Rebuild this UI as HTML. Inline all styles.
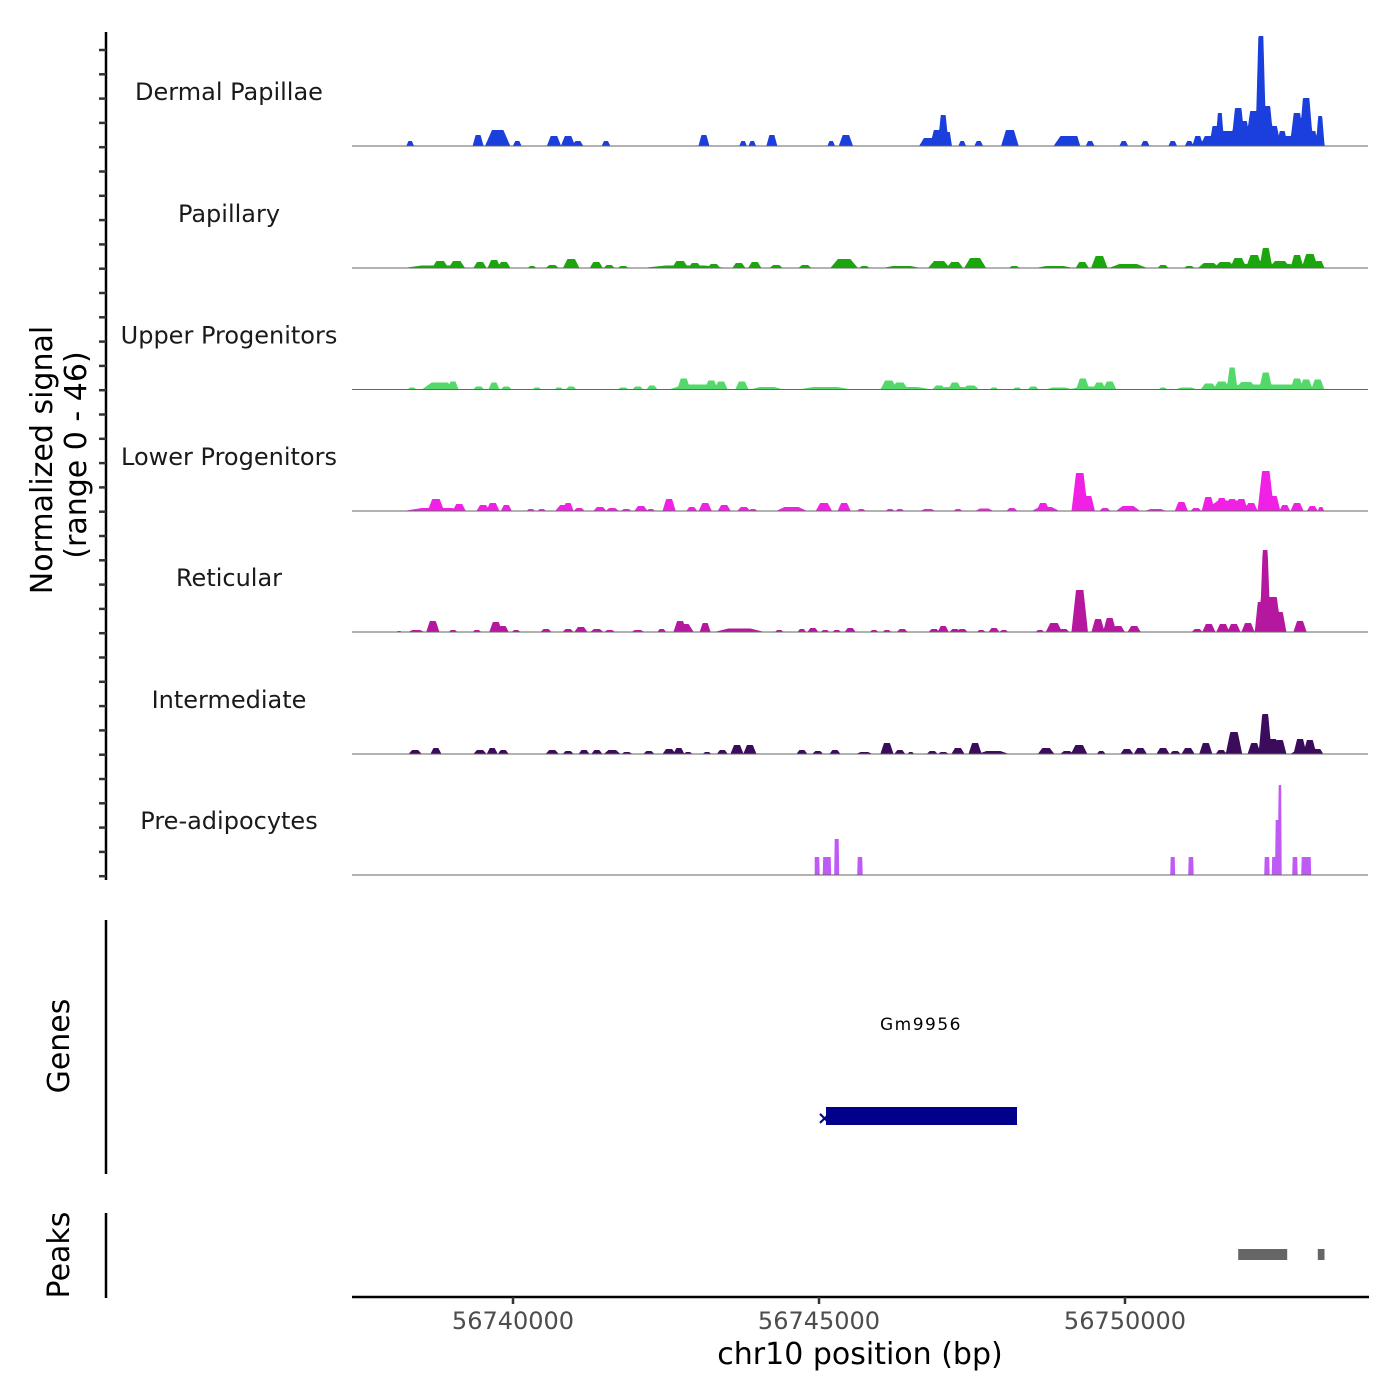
<!DOCTYPE html>
<html><head><meta charset="utf-8">
<style>
html,body{margin:0;padding:0;background:#fff;}
svg{display:block;font-family:"DejaVu Sans","Liberation Sans",sans-serif;}
</style></head>
<body>
<svg id="chart" width="1400" height="1400" viewBox="0 0 1400 1400" xmlns="http://www.w3.org/2000/svg">
  <rect x="0" y="0" width="1400" height="1400" fill="#fff"/>
  <g id="tracks"></g>
  <line x1="106" y1="32" x2="106" y2="880" stroke="#000" stroke-width="2.5"/>
  <g id="yticks"></g>
  <text transform="translate(52,460) rotate(-90)" text-anchor="middle" font-size="30" fill="#000">Normalized signal</text>
  <text transform="translate(86,455) rotate(-90)" text-anchor="middle" font-size="30" fill="#000">(range 0 - 46)</text>

  <line x1="106" y1="920" x2="106" y2="1174" stroke="#000" stroke-width="2.5"/>
  <text transform="translate(69,1046) rotate(-90)" text-anchor="middle" font-size="30" fill="#000">Genes</text>
  <text x="921" y="1030" text-anchor="middle" font-size="17" letter-spacing="1.5" fill="#000">Gm9956</text>
  <rect id="genebar" x="826" y="1107" width="191" height="18" fill="#00008b"/>
  <text x="817" y="1124" font-size="18" font-weight="bold" fill="#00008b">×</text>

  <line x1="106" y1="1213" x2="106" y2="1298" stroke="#000" stroke-width="2.5"/>
  <text transform="translate(69,1255) rotate(-90)" text-anchor="middle" font-size="30" fill="#000">Peaks</text>
  <g id="peaks"></g>

  <line x1="352" y1="1297" x2="1369" y2="1297" stroke="#000" stroke-width="2.5"/>
  <g id="xticks"></g>
  <text x="860" y="1364" text-anchor="middle" font-size="30" fill="#000">chr10 position (bp)</text>
</svg>
<script>
// x positions are kb offsets from 56,740,000 bp
const xTickValues=[56740000,56745000,56750000];
const xTickLabels=["56740000","56745000","56750000"];
const trackNames=["Dermal Papillae","Papillary","Upper Progenitors","Lower Progenitors","Reticular","Intermediate","Pre-adipocytes"];
const trackColors=["#1a3fdc","#1aa60c","#52d96a","#f020e4","#b5179e","#3b0b5c","#c05af5"];
const yMax=46;

const dpPos=[-1.68,-0.57,-0.25,0.07,0.67,0.90,1.06,1.52,3.12,3.76,3.91,4.23,5.20,5.44,6.78,6.93,7.03,7.11,7.34,7.61,8.12,9.04,9.18,9.43,9.98,10.33,10.78,11.05,11.19,11.37,11.47,11.55,11.68,11.85,11.94,12.11,12.22,12.32,12.43,12.57,12.81,12.96,13.07,13.19,11.75,12.65];
const dpVal=[2,4.4,6.4,2,4,4,2,2,4.4,2,2,4.4,2,4.4,3.2,6.4,12.4,5.6,2,2,6.4,4,4,2,2,2,2,2,4,4,8,13.2,6,15.2,10,14,44,16,8,6,13.2,19.2,6,12,4,4];
const dpWid=[.07,.1,.23,.08,.13,.13,.1,.08,.1,.07,.07,.1,.07,.13,.16,.13,.1,.07,.07,.08,.16,.23,.1,.08,.08,.08,.08,.08,.1,.16,.1,.08,.2,.13,.13,.16,.1,.13,.13,.1,.13,.13,.1,.08,.5,.5];

const paPos=[-1.25,-1.19,-0.92,-0.54,-0.31,-0.15,0.31,0.64,0.95,1.36,1.57,1.80,2.81,2.73,2.97,3.28,3.69,3.95,4.30,4.77,5.41,5.74,6.35,6.96,7.22,7.55,8.19,8.85,9.30,9.58,10.05,10.62,11.05,11.37,11.63,11.85,12.11,12.30,12.53,12.28,12.81,13.02,13.17];
const paVal=[1,2.8,2.8,2.4,3.2,2.4,0.8,1.2,3.6,2.4,1.2,0.8,1,2.8,2,1.6,2,2.4,1.2,1.2,3.6,0.8,0.8,2.8,2.4,4,0.8,0.8,2.4,4.8,1.6,1.2,0.8,2,2.4,4,5.2,8,2.8,1.6,5.2,5.6,2.8];
const paWid=[.6,.15,.15,.12,.12,.12,.08,.12,.15,.12,.1,.1,.78,.15,.12,.12,.12,.12,.12,.12,.25,.1,.35,.2,.15,.2,.1,.35,.12,.15,.35,.1,.1,.2,.2,.15,.15,.12,.2,1.0,.12,.15,.1];

const upPos=[-1.65,-1.20,-0.98,-0.56,-0.31,-0.11,0.39,0.75,0.95,1.80,2.04,2.27,3.02,2.79,3.24,3.40,3.74,4.15,5.10,6.14,6.32,6.40,6.63,6.96,7.22,7.48,7.25,7.86,8.24,8.50,8.92,9.31,9.58,9.75,9.45,10.62,11.00,11.37,11.58,11.75,11.98,12.30,12.52,12.81,12.96,13.15,12.30];
const upVal=[0.8,2.8,3.2,1.2,2.8,1.2,0.8,0.8,1.2,0.8,1.2,1.6,2,4.4,3.6,3.2,3.2,1,1,3.6,2.8,1,0.8,1.6,2.8,1.6,1,0.8,0.8,1.2,0.8,4.4,2.8,3.2,1.2,0.8,0.8,2.4,3.2,8.8,3,6.8,2,4.4,4,4,2];
const upWid=[.08,.32,.1,.1,.1,.1,.08,.08,.1,.1,.1,.1,.53,.12,.12,.12,.12,.3,.48,.15,.15,.5,.1,.12,.12,.15,.45,.08,.08,.1,.25,.12,.12,.12,.4,.08,.2,.15,.15,.1,.2,.12,.15,.12,.12,.12,1.0];

const lpPos=[-1.25,-1.26,-0.88,-0.49,-0.33,-0.11,0.29,0.47,0.84,0.90,1.08,1.42,1.62,1.85,2.09,2.25,2.55,2.92,3.14,3.45,3.77,3.92,4.55,5.08,5.41,5.69,6.16,6.32,6.78,7.27,7.70,8.15,8.70,8.66,9.26,9.40,9.67,10.05,10.50,10.92,11.16,11.36,11.58,11.75,11.90,12.06,11.70,12.30,12.43,12.61,12.81,13.06,13.20];
const lpVal=[1.2,4.8,2.8,2.4,3.2,2.4,0.8,0.8,2.4,3.2,1.2,1.6,1.2,0.8,2,0.8,4.8,1.6,3.2,2.4,1.6,0.8,1.6,3.2,3.2,0.8,0.8,0.8,0.8,0.8,1,1.2,1.6,3.2,15.2,6,1.2,2,0.8,3.6,1.2,5.6,5.2,4.8,4.8,3.2,4.2,16,6,2.4,3.2,2,1.6];
const lpWid=[.6,.15,.12,.12,.12,.1,.08,.08,.17,.1,.1,.12,.12,.1,.12,.08,.12,.1,.12,.12,.12,.08,.28,.15,.12,.08,.08,.08,.14,.08,.17,.1,.25,.12,.15,.12,.1,.22,.2,.12,.1,.12,.12,.12,.12,.12,.45,.15,.12,.1,.12,.1,.06];

const rePos=[-1.86,-1.58,-1.31,-0.98,-0.59,-0.28,-0.16,0.05,0.54,0.90,1.11,1.37,1.58,2.04,2.43,2.73,2.80,3.14,3.70,4.35,4.72,4.90,5.10,5.29,5.51,5.90,6.11,6.36,6.88,7.03,7.22,7.34,7.65,7.86,8.02,8.61,8.84,9.00,9.26,9.56,9.75,9.89,10.15,11.18,11.37,11.60,11.78,12.01,12.21,12.29,12.42,12.53,12.86];
const reVal=[0.4,0.8,4.4,0.8,0.8,4,2.4,0.8,1.2,1.2,2,1.2,0.8,0.8,1.2,4.4,3.2,3.6,1.4,0.8,1.2,1.6,0.8,0.8,1.6,0.8,0.8,1.2,1.2,2.4,1.2,1.2,0.8,1.6,0.8,0.8,3.6,1.2,16.8,5.2,5.6,2.4,2.4,1.2,3.2,3.2,3.2,3.6,12,32.8,14,8,4.4];
const reWid=[.05,.15,.12,.08,.08,.12,.1,.08,.1,.1,.12,.12,.1,.12,.08,.12,.17,.1,.45,.08,.08,.1,.08,.08,.1,.08,.08,.1,.1,.1,.1,.1,.08,.1,.08,.08,.15,.1,.15,.12,.12,.12,.12,.1,.12,.12,.12,.12,.1,.1,.15,.12,.12];

const inPos=[-1.60,-1.26,-0.54,-0.34,-0.16,0.64,0.90,1.16,1.37,1.62,1.86,2.22,2.55,2.71,2.86,3.17,3.42,3.66,3.87,4.72,4.98,5.26,5.74,6.11,6.32,6.50,6.85,7.03,7.27,7.55,7.85,8.71,9.05,9.25,9.61,10.03,10.25,10.62,10.82,11.03,11.32,11.57,11.78,12.11,12.29,12.42,12.53,12.86,13.02,13.15,12.95];
const inVal=[1.6,2.4,1.6,2.4,1.6,1.6,1.2,1.6,1.6,1.6,0.8,1.2,2,2.4,0.8,0.8,1.6,3.6,3.6,1.6,1.2,1.6,0.8,4.4,1.6,0.8,1.2,0.8,2.4,4.4,1.2,2.4,1.2,3.6,1.2,2,2.4,2.4,1.2,2.4,4.4,1.6,8.8,4.4,16,6,5.6,6,5.6,2,2];
const inWid=[.12,.1,.12,.1,.1,.12,.1,.1,.1,.15,.1,.1,.12,.1,.08,.08,.1,.12,.12,.1,.1,.1,.15,.12,.1,.06,.1,.1,.12,.12,.28,.15,.12,.15,.08,.12,.12,.12,.1,.12,.12,.1,.15,.12,.12,.12,.12,.12,.12,.1,.28];

const adPos=[4.97,5.13,5.29,5.67,10.78,11.08,12.32,12.45,12.50,12.53,12.78,12.96];
const adVal=[7.2,7.2,14.4,7.2,7.2,7.2,7.2,7.2,22,36,7.2,7.2];
const adWid=[.08,.13,.07,.08,.07,.08,.08,.1,.08,.05,.08,.16];

const peakStarts=[56751850,56753150];
const peakEnds=[56752650,56753260];

const tracks=[[dpPos,dpVal,dpWid,0],[paPos,paVal,paWid,0],[upPos,upVal,upWid,0],[lpPos,lpVal,lpWid,0],[rePos,reVal,reWid,0],[inPos,inVal,inWid,0],[adPos,adVal,adWid,1]];

const NS="http://www.w3.org/2000/svg";
const X0=352,X1=1368;
const widthScale=1.8;
function xScale(bp){return 513+(bp-56740000)*0.0612;}
function xKb(kb){return xScale(56740000+kb*1000);}
const baselines=[146,268,389.5,511,632,754,875];
const pxPerUnit=2.5;
function yScale(v,i){return baselines[i]-v*pxPerUnit;}

const tg=document.getElementById('tracks');
tracks.forEach((t,i)=>{
  const [pos,val,wid,flat]=t;
  const ws=flat?1:widthScale;
  let minX=1e9,maxX=-1e9;
  pos.forEach((p,j)=>{minX=Math.min(minX,xKb(p-wid[j]*ws/2));maxX=Math.max(maxX,xKb(p+wid[j]*ws/2));});
  let d="M"+minX.toFixed(1)+","+baselines[i];
  for(let x=minX;x<=maxX+0.5;x+=0.5){
    let v=0;
    pos.forEach((p,j)=>{
      const cx=xKb(p),hw=wid[j]*ws*61.2/2,dx=Math.abs(x-cx);
      let f;
      if(flat){f=dx<=hw?1:0;}
      else{f=Math.max(0,Math.min(1,(hw-dx)/(hw*0.55)));}
      v=Math.max(v,val[j]*f);
    });
    d+="L"+x.toFixed(1)+","+yScale(v,i).toFixed(2);
  }
  d+="L"+(maxX+0.5).toFixed(1)+","+baselines[i]+"Z";
  const path=document.createElementNS(NS,'path');
  path.setAttribute('d',d);
  path.setAttribute('fill',trackColors[i]);
  
  
  tg.appendChild(path);
  const bl=document.createElementNS(NS,'line');
  bl.setAttribute('x1',X0);bl.setAttribute('x2',X1);
  bl.setAttribute('y1',baselines[i]);bl.setAttribute('y2',baselines[i]);
  bl.setAttribute('stroke','#666');bl.setAttribute('stroke-width','1');
  
  
  tg.appendChild(bl);
  const lab=document.createElementNS(NS,'text');
  lab.setAttribute('x',229);lab.setAttribute('y',baselines[i]-46);
  lab.setAttribute('text-anchor','middle');lab.setAttribute('font-size','24');
  lab.setAttribute('fill','#1a1a1a');
  lab.textContent=trackNames[i];
  
  
  tg.appendChild(lab);
});

const yt=document.getElementById('yticks');
for(let y=50;y<=880;y+=24.3){
  const l=document.createElementNS(NS,'line');
  l.setAttribute('x1',99);l.setAttribute('x2',106);
  l.setAttribute('y1',y.toFixed(1));l.setAttribute('y2',y.toFixed(1));
  l.setAttribute('stroke','#333');l.setAttribute('stroke-width','2.5');
  
  
  yt.appendChild(l);
}

const pg=document.getElementById('peaks');
peakStarts.forEach((s,i)=>{
  const r=document.createElementNS(NS,'rect');
  r.setAttribute('x',xScale(s).toFixed(1));
  r.setAttribute('y',1249);
  r.setAttribute('width',(xScale(peakEnds[i])-xScale(s)).toFixed(1));
  r.setAttribute('height',11);
  r.setAttribute('fill','#666');
  
  
  pg.appendChild(r);
});

const xt=document.getElementById('xticks');
xTickValues.forEach((v,i)=>{
  const x=xScale(v);
  const l=document.createElementNS(NS,'line');
  l.setAttribute('x1',x);l.setAttribute('x2',x);
  l.setAttribute('y1',1297);l.setAttribute('y2',1304);
  l.setAttribute('stroke','#333');l.setAttribute('stroke-width','2.5');
  
  
  xt.appendChild(l);
  const t=document.createElementNS(NS,'text');
  t.setAttribute('x',x);t.setAttribute('y',1329);
  t.setAttribute('text-anchor','middle');t.setAttribute('font-size','24');
  t.setAttribute('fill','#4d4d4d');
  t.textContent=xTickLabels[i];
  
  
  xt.appendChild(t);
});
</script>
</body></html>
